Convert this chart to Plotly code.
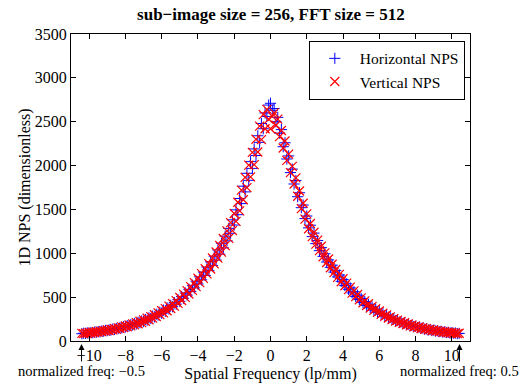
import numpy as np
import plotly.graph_objects as go

# spatial frequency axis (lp/mm), -Nyquist .. +Nyquist in 0.1 steps
freq = np.round(np.linspace(-10.4, 10.4, 209), 2)

# Horizontal NPS (blue +), f = -10.4 ... -0.1
horiz_left = [83, 88, 87, 92, 90, 96, 95, 102, 100, 107, 106, 114, 112, 120, 118, 127, 124,
              135, 132, 143, 141, 153, 150, 164, 160, 175, 170, 187, 182, 200, 194, 214, 208,
              229, 222, 246, 238, 264, 256, 284, 275, 305, 295, 328, 316, 352, 339, 378, 364,
              406, 391, 437, 420, 471, 452, 508, 487, 547, 523, 590, 563, 635, 605, 682, 650,
              733, 697, 786, 748, 843, 802, 903, 860, 967, 922, 1038, 990, 1114, 1062, 1195,
              1142, 1284, 1228, 1381, 1322, 1495, 1440, 1625, 1566, 1765, 1700, 1912, 1832,
              2045, 1968, 2190, 2115, 2340, 2265, 2480, 2420, 2600, 2560, 2690]
horiz_center = [2710]
# f = 0.1 ... 10.4
horiz_right = [2630, 2650, 2500, 2550, 2370, 2410, 2215, 2260, 2075, 2110, 1920, 1960, 1790,
               1830, 1645, 1690, 1520, 1550, 1395, 1425, 1290, 1320, 1190, 1230, 1110, 1145,
               1030, 1065, 965, 995, 900, 925, 840, 865, 785, 805, 730, 752, 680, 700, 632,
               652, 590, 605, 548, 562, 508, 522, 472, 485, 438, 450, 406, 418, 378, 389, 352,
               362, 327, 338, 305, 315, 284, 293, 264, 273, 246, 254, 229, 236, 213, 220, 199,
               206, 186, 192, 174, 180, 163, 169, 153, 159, 144, 148, 134, 139, 126, 131, 119,
               124, 113, 117, 107, 111, 101, 105, 96, 100, 91, 95, 88, 91, 84, 87]

# Vertical NPS (red x), f = -10.4 ... -0.1
vert_left = [87, 84, 90, 87, 95, 91, 100, 96, 105, 101, 112, 107, 118, 113, 125, 118, 132,
             126, 141, 133, 150, 143, 161, 152, 171, 162, 183, 173, 196, 184, 210, 197, 225,
             210, 241, 225, 259, 242, 278, 260, 299, 279, 321, 300, 345, 321, 370, 345, 397,
             371, 427, 398, 460, 429, 496, 462, 534, 497, 575, 536, 619, 577, 666, 619, 715,
             666, 768, 714, 824, 766, 883, 821, 946, 880, 1015, 944, 1089, 1013, 1169, 1088,
             1255, 1170, 1350, 1259, 1454, 1363, 1582, 1483, 1720, 1610, 1865, 1748, 2005,
             1872, 2150, 2010, 2300, 2155, 2450, 2295, 2580, 2420, 2640, 2530]
vert_center = [2420]
# f = 0.1 ... 10.4
vert_right = [2560, 2600, 2460, 2530, 2330, 2400, 2200, 2280, 2060, 2130, 1920, 1990, 1790,
              1860, 1650, 1710, 1510, 1570, 1390, 1450, 1280, 1340, 1190, 1240, 1105, 1150,
              1030, 1080, 960, 1005, 895, 935, 835, 875, 780, 815, 725, 760, 675, 710, 630,
              660, 585, 615, 545, 572, 505, 530, 470, 492, 436, 458, 405, 425, 376, 395, 350,
              368, 326, 342, 303, 318, 282, 296, 262, 275, 244, 256, 227, 238, 212, 222, 198,
              208, 185, 194, 173, 181, 162, 170, 152, 160, 143, 150, 134, 141, 126, 133, 119,
              125, 112, 118, 106, 112, 100, 106, 95, 100, 91, 95, 87, 91, 84, 88]

horiz_nps = horiz_left + horiz_center + horiz_right
vert_nps = vert_left + vert_center + vert_right

x_ticks = [-10, -8, -6, -4, -2, 0, 2, 4, 6, 8, 10]
y_ticks = [0, 500, 1000, 1500, 2000, 2500, 3000, 3500]
nyquist = 10.42

FONT = "Liberation Serif, Times New Roman, serif"

fig = go.Figure()
fig.add_trace(go.Scatter(
    x=freq, y=horiz_nps, mode="markers", name="Horizontal NPS",
    marker=dict(symbol="cross-thin", size=8, color="blue",
                line=dict(color="blue", width=1))))
fig.add_trace(go.Scatter(
    x=freq, y=vert_nps, mode="markers", name="Vertical NPS",
    marker=dict(symbol="x-thin", size=9, color="red",
                line=dict(color="red", width=1.2))))

fig.update_layout(
    width=521, height=391,
    margin=dict(l=71, r=51, t=34, b=41),
    paper_bgcolor="white", plot_bgcolor="white",
    font=dict(family=FONT, size=15, color="black"),
    title=dict(text="<b>sub\u2212image size = 256, FFT size = 512</b>",
               x=0.52, xanchor="center", y=0.963, yanchor="middle",
               font=dict(family=FONT, size=17)),
    showlegend=True,
    legend=dict(x=0.987, y=0.978, xanchor="right", yanchor="top",
                bordercolor="black", borderwidth=1, bgcolor="white",
                font=dict(family=FONT, size=15.5), itemwidth=40,
                tracegroupgap=0),
)
fig.update_xaxes(
    range=[-11, 11], tickvals=x_ticks, ticks="inside", ticklen=5, tickcolor="black",
    showline=True, linecolor="black", linewidth=1, mirror="ticks", showgrid=False,
    zeroline=False, tickfont=dict(family=FONT, size=16),
    title=dict(text="Spatial Frequency (lp/mm)", standoff=4,
               font=dict(family=FONT, size=16)))
fig.update_yaxes(
    range=[0, 3500], tickvals=y_ticks, ticks="inside", ticklen=5, tickcolor="black",
    showline=True, linecolor="black", linewidth=1, mirror="ticks", showgrid=False,
    zeroline=False, tickfont=dict(family=FONT, size=16),
    title=dict(text="1D NPS (dimensionless)", standoff=0,
               font=dict(family=FONT, size=16)))

for xv, label in [(-nyquist, "normalized freq: \u22120.5"), (nyquist, "normalized freq: 0.5")]:
    fig.add_annotation(
        x=xv, y=-0.0095, xref="x", yref="paper", text=label, showarrow=True,
        ax=0, ay=27, arrowhead=2, arrowsize=1.2, arrowwidth=1, arrowcolor="black",
        font=dict(family=FONT, size=14.6, color="black"))

fig.write_html("out.html")
